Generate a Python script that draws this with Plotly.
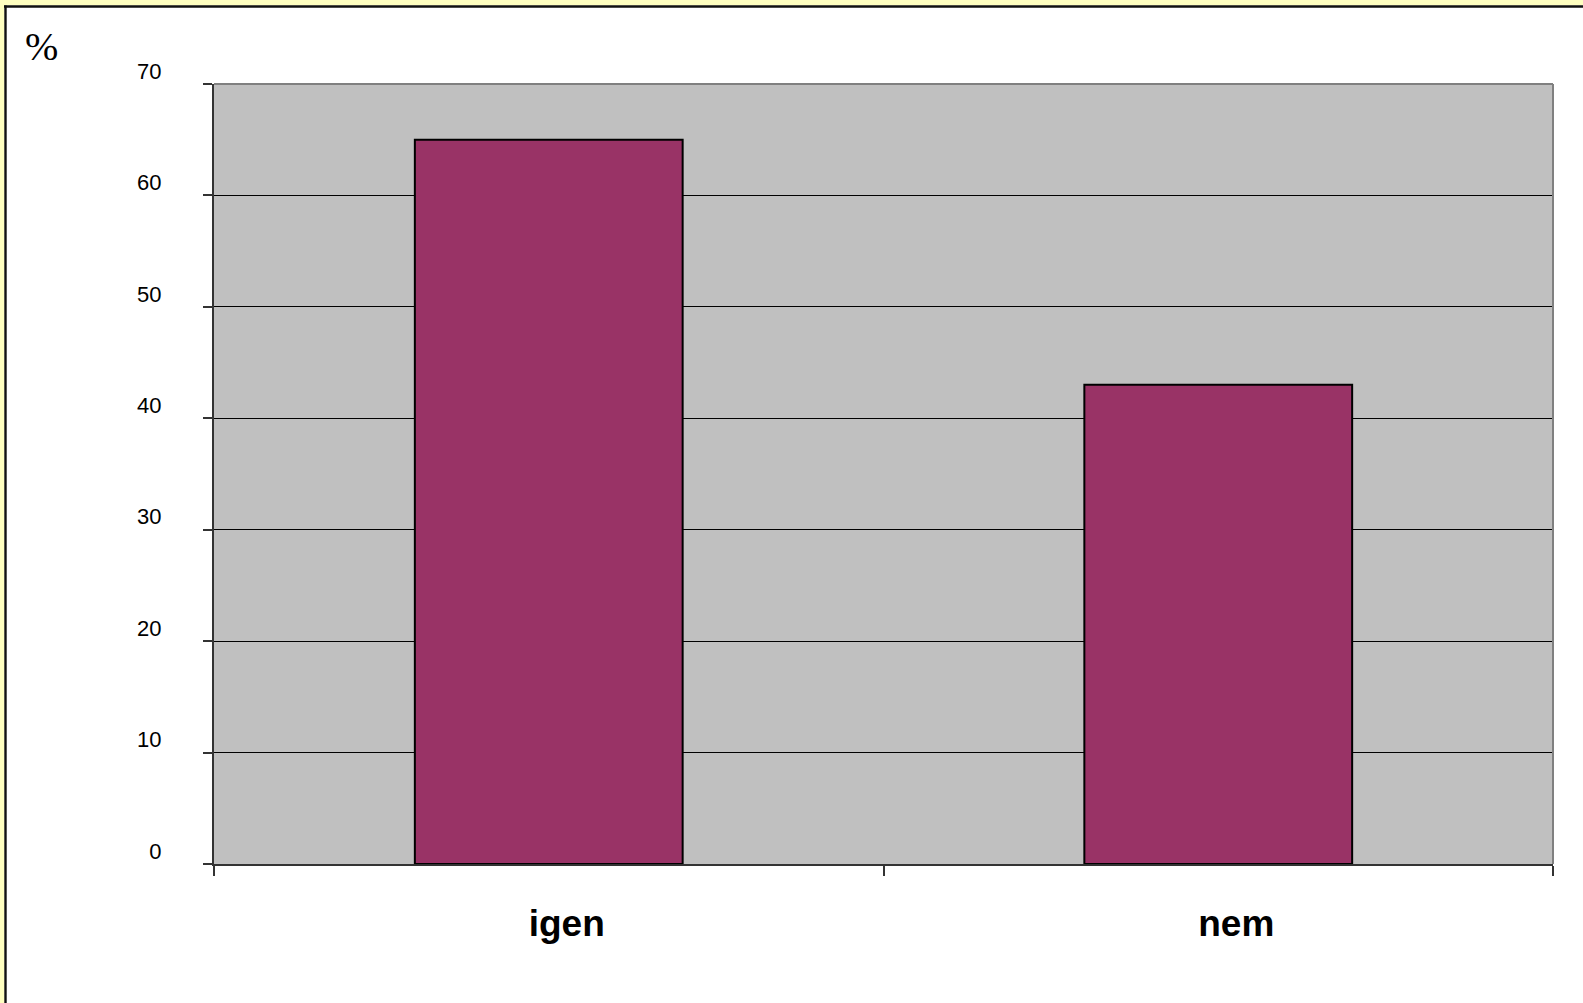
import plotly.graph_objects as go

categories = ["igen", "nem"]
values = [65, 43]
y_ticks = [0, 10, 20, 30, 40, 50, 60, 70]
y_ticklabels = ["0", "10", "20", "30", "40", "50", "60", "70"]
unit_label = "%"

W, H = 1583, 1003
L, R, T, B = 214, 1553, 84, 864
pw, ph = R - L, B - T


def px(x):
    return (x - L) / pw


def py(y):
    return (B - y) / ph


fig = go.Figure()
fig.add_trace(go.Bar(
    x=categories, y=values,
    marker=dict(color="#993366", line=dict(color="#000000", width=2)),
    width=0.4,
))

shapes = [
    # yellow strips outside frame
    dict(type="rect", xref="paper", yref="paper", x0=px(-10), x1=px(W + 10), y0=py(5.5), y1=py(-10),
         fillcolor="#FFFFC0", line=dict(width=0), layer="below"),
    dict(type="rect", xref="paper", yref="paper", x0=px(-10), x1=px(4.5), y0=py(H + 10), y1=py(-10),
         fillcolor="#FFFFC0", line=dict(width=0), layer="below"),
    # black frame lines
    dict(type="line", xref="paper", yref="paper", x0=px(4), x1=px(W + 10), y0=py(6.5), y1=py(6.5),
         line=dict(color="#111111", width=2.4)),
    dict(type="line", xref="paper", yref="paper", x0=px(5.5), x1=px(5.5), y0=py(5.5), y1=py(H + 10),
         line=dict(color="#111111", width=2.4)),
    # plot area border top/right (gray)
    dict(type="line", xref="paper", yref="paper", x0=0, x1=1, y0=1, y1=1,
         line=dict(color="#808080", width=2)),
    dict(type="line", xref="paper", yref="paper", x0=1, x1=1, y0=0, y1=1,
         line=dict(color="#808080", width=2)),
]

fig.update_layout(
    width=W, height=H,
    margin=dict(l=L, r=W - R, t=T, b=H - B, pad=0),
    paper_bgcolor="#FFFFFF",
    plot_bgcolor="#C0C0C0",
    showlegend=False,
    bargap=0.6,
    shapes=shapes,
    font=dict(family="Liberation Sans, Arial, sans-serif", color="#000000"),
    xaxis=dict(
        type="category",
        tickson="boundaries",
        ticks="outside", ticklen=10, tickwidth=1.5, tickcolor="#333333",
        showline=True, linecolor="#333333", linewidth=2,
        showgrid=False,
        tickfont=dict(size=37, family="Liberation Sans, Arial, sans-serif", color="#000000", weight="bold"),
        ticklabelshift=18,
        ticklabelstandoff=26,
        fixedrange=True,
    ),
    yaxis=dict(
        range=[0, 70],
        tickvals=y_ticks, ticktext=y_ticklabels,
        ticks="outside", ticklen=9, tickwidth=1.5, tickcolor="#333333",
        showline=True, linecolor="#333333", linewidth=2,
        showgrid=True, gridcolor="#000000", gridwidth=1,
        zeroline=False,
        tickfont=dict(size=22, family="Liberation Sans, Arial, sans-serif", color="#000000"),
        ticklabelshift=-13,
        ticklabelstandoff=37,
        fixedrange=True,
    ),
    annotations=[
        dict(text=unit_label, xref="paper", yref="paper", x=px(41.5), y=py(47),
             xanchor="center", yanchor="middle", showarrow=False,
             font=dict(family="Liberation Serif, Times New Roman, serif", size=40, color="#000000")),
    ],
)

fig.write_html("out.html", config={"displayModeBar": False},
               post_script="document.body.style.margin='0';document.body.style.overflow='hidden';")
